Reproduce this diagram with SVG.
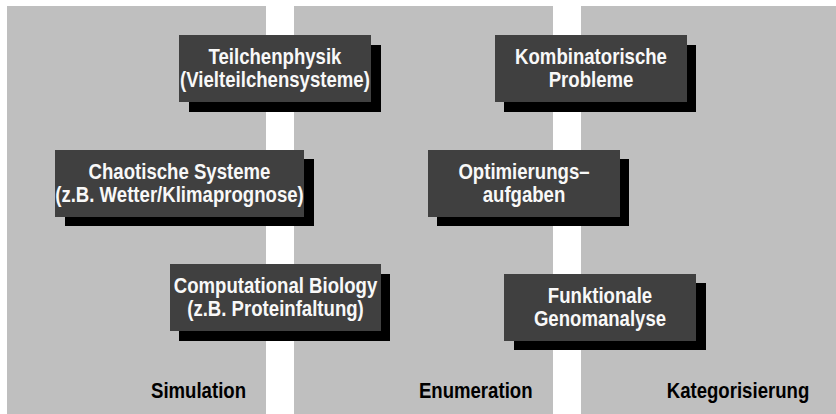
<svg xmlns="http://www.w3.org/2000/svg" width="836" height="414" viewBox="0 0 836 414">
<style>
.panel{fill:#bfbfbf}
.shadow{fill:#000}
.box{fill:#404040}
.t{font-family:"Liberation Sans",Arial,sans-serif;font-weight:bold;font-size:21.5px;fill:#f8f8f8;text-anchor:middle}
.lab{font-family:"Liberation Sans",Arial,sans-serif;font-weight:bold;font-size:21.5px;fill:#000;text-anchor:middle}
</style>
<rect width="836" height="414" fill="#fff"/>
<g id="panels">
<rect class="panel" x="7" y="6" width="259" height="408"/>
<rect class="panel" x="294" y="6" width="259" height="408"/>
<rect class="panel" x="581" y="6" width="255" height="408"/>
</g>
<g id="connectors"></g>
<g id="n-teilchen">
<rect class="shadow" x="189" y="45" width="192" height="67"/>
<rect class="box" x="179" y="35" width="192" height="67"/>
<text class="t" transform="translate(275,63.5) scale(0.865,1)">Teilchenphysik</text>
<text class="t" transform="translate(275,87) scale(0.865,1)">(Vielteilchensysteme)</text>
</g>
<g id="n-chaotisch">
<rect class="shadow" x="65" y="159" width="249" height="67"/>
<rect class="box" x="55" y="150" width="249" height="67"/>
<text class="t" transform="translate(179.5,178.5) scale(0.865,1)">Chaotische Systeme</text>
<text class="t" transform="translate(179.5,202) scale(0.865,1)">(z.B. Wetter/Klimaprognose)</text>
</g>
<g id="n-biology">
<rect class="shadow" x="179" y="274" width="211" height="67"/>
<rect class="box" x="170" y="264" width="211" height="67"/>
<text class="t" transform="translate(275.5,292.5) scale(0.865,1)">Computational Biology</text>
<text class="t" transform="translate(275.5,316) scale(0.865,1)">(z.B. Proteinfaltung)</text>
</g>
<g id="n-kombinatorisch">
<rect class="shadow" x="504" y="45" width="192" height="67"/>
<rect class="box" x="495" y="35" width="192" height="67"/>
<text class="t" transform="translate(591,63.5) scale(0.865,1)">Kombinatorische</text>
<text class="t" transform="translate(591,87) scale(0.865,1)">Probleme</text>
</g>
<g id="n-optimierung">
<rect class="shadow" x="437" y="159" width="192" height="67"/>
<rect class="box" x="428" y="150" width="192" height="67"/>
<text class="t" transform="translate(524,178.5) scale(0.865,1)">Optimierungs–</text>
<text class="t" transform="translate(524,202) scale(0.865,1)">aufgaben</text>
</g>
<g id="n-genom">
<rect class="shadow" x="514" y="283" width="192" height="67"/>
<rect class="box" x="504" y="274" width="192" height="67"/>
<text class="t" transform="translate(600,302.5) scale(0.865,1)">Funktionale</text>
<text class="t" transform="translate(600,326) scale(0.865,1)">Genomanalyse</text>
</g>
<g id="labels">
<text class="lab" transform="translate(198.5,397.5) scale(0.865,1)">Simulation</text>
<text class="lab" transform="translate(475.7,397.5) scale(0.865,1)">Enumeration</text>
<text class="lab" transform="translate(738,397.5) scale(0.865,1)">Kategorisierung</text>
</g>
</svg>
